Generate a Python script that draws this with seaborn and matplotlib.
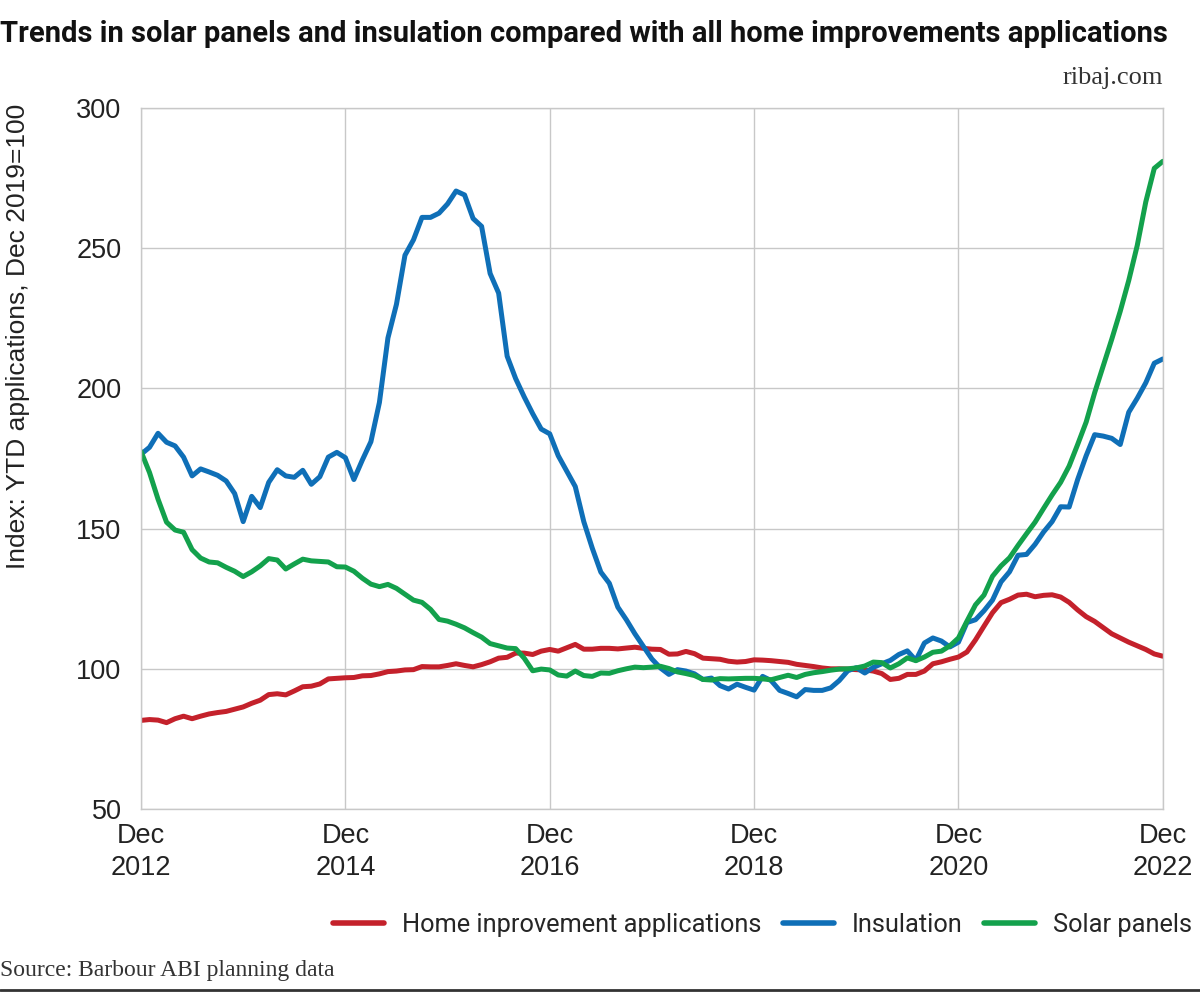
import pandas as pd
import matplotlib.pyplot as plt
import seaborn as sns

# Monthly index values, Dec 2012 .. Dec 2022 (121 months)
home_improvement = [
    81.6, 81.9, 81.7, 80.8, 82.2, 83.1, 82.2, 83.1, 83.9, 84.4,
    84.8, 85.6, 86.4, 87.7, 88.8, 90.8, 91.1, 90.7, 92.1, 93.6,
    93.8, 94.6, 96.4, 96.6, 96.8, 96.9, 97.5, 97.6, 98.2, 99.0,
    99.2, 99.6, 99.7, 100.8, 100.7, 100.7, 101.2, 101.8, 101.2, 100.7,
    101.5, 102.5, 103.8, 104.1, 105.6, 105.6, 105.1, 106.3, 106.9, 106.3,
    107.5, 108.7, 107.0, 107.0, 107.3, 107.3, 107.1, 107.4, 107.7, 107.3,
    107.0, 106.9, 105.2, 105.3, 106.2, 105.4, 103.8, 103.6, 103.4, 102.7,
    102.4, 102.6, 103.2, 103.1, 102.9, 102.6, 102.3, 101.6, 101.2, 100.8,
    100.3, 100.0, 100.0, 99.9, 99.7, 99.6, 99.2, 98.3, 96.2, 96.6,
    98.0, 98.0, 99.2, 101.8, 102.5, 103.4, 104.2, 106.0, 110.3, 115.2,
    120.0, 123.6, 124.8, 126.3, 126.6, 125.7, 126.2, 126.4, 125.6, 123.7,
    121.0, 118.6, 116.9, 114.7, 112.5, 111.0, 109.5, 108.2, 106.9, 105.3,
    104.5,
]
insulation = [
    176.5, 179.0, 184.0, 180.8, 179.5, 175.5, 168.8, 171.3, 170.2, 169.0,
    167.0, 162.5, 152.5, 161.5, 157.5, 166.5, 171.0, 168.8, 168.3, 170.8,
    165.8, 168.5, 175.5, 177.2, 175.3, 167.5, 174.5, 181.0, 195.0, 218.0,
    230.0, 247.5, 253.0, 261.0, 261.0, 262.5, 265.8, 270.4, 269.0, 260.6,
    257.8, 241.0, 234.0, 211.5, 203.5, 197.0, 191.0, 185.5, 183.8, 176.0,
    170.5, 165.0, 152.5, 143.0, 134.5, 130.5, 122.0, 117.5, 112.5, 108.0,
    103.5, 100.3, 98.0, 99.7, 99.2, 98.2, 96.2, 96.7, 94.0, 92.8,
    94.5, 93.4, 92.4, 97.3, 95.8, 92.3, 91.2, 90.0, 92.6, 92.3,
    92.3, 93.2, 95.8, 99.3, 100.4, 98.5, 100.5, 101.8, 103.0, 105.1,
    106.4, 103.0, 109.2, 111.0, 109.9, 107.8, 109.5, 116.5, 117.5, 120.7,
    124.5, 131.0, 134.6, 140.5, 140.8, 144.4, 148.8, 152.5, 157.8, 157.7,
    167.5, 176.0, 183.5, 183.0, 182.2, 180.0, 191.5, 196.5, 202.0, 209.0,
    210.5,
]
solar_panels = [
    177.5, 170.0, 160.5, 152.3, 149.5, 148.7, 142.5, 139.5, 138.1, 137.8,
    136.2, 134.8, 132.9, 134.6, 136.7, 139.3, 138.8, 135.6, 137.4, 139.1,
    138.5, 138.3, 138.1, 136.4, 136.3, 134.8, 132.3, 130.2, 129.3, 130.1,
    128.7, 126.6, 124.5, 123.7, 121.2, 117.6, 117.0, 115.9, 114.6, 112.9,
    111.3, 109.0, 108.2, 107.4, 107.2, 103.8, 99.3, 99.9, 99.6, 97.8,
    97.4, 99.2, 97.6, 97.3, 98.5, 98.4, 99.3, 100.0, 100.6, 100.4,
    100.6, 100.9, 100.1, 98.9, 98.3, 97.6, 96.2, 96.0, 96.5, 96.4,
    96.5, 96.6, 96.6, 96.4, 96.1, 96.9, 97.7, 96.9, 98.0, 98.6,
    99.0, 99.5, 99.9, 100.0, 100.3, 101.0, 102.4, 102.2, 100.3, 101.8,
    103.9, 102.9, 104.2, 105.9, 106.3, 108.2, 111.0, 117.0, 122.8, 126.3,
    133.0, 136.7, 139.6, 144.0, 148.2, 152.3, 157.2, 162.0, 166.5, 172.3,
    180.0, 188.0, 198.5, 208.0, 217.5, 227.5, 238.5, 251.0, 266.5, 278.5,
    281.0,
]

series_names = ["Home inprovement applications", "Insulation", "Solar panels"]
series_colors = ["#c4212b", "#0f6fb7", "#13a14c"]
tick_months = [0, 24, 48, 72, 96, 120]
tick_labels = ["Dec\n2012", "Dec\n2014", "Dec\n2016", "Dec\n2018", "Dec\n2020", "Dec\n2022"]
y_ticks = [50, 100, 150, 200, 250, 300]

# long-form table for seaborn
months = list(range(len(home_improvement)))
df = pd.concat([
    pd.DataFrame({"month": months, "value": vals, "series": name})
    for name, vals in zip(series_names, [home_improvement, insulation, solar_panels])
])

sns.set_style("white")
plt.rcParams["font.family"] = ["Liberation Sans", "DejaVu Sans"]
serif = ["Liberation Serif", "DejaVu Serif"]

fig = plt.figure(figsize=(12, 9.93), dpi=100)
ax = fig.add_axes([0.1175, 0.1853, 0.8515, 0.7059])

sns.lineplot(data=df, x="month", y="value", hue="series", hue_order=series_names,
             palette=series_colors, linewidth=3.6, ax=ax, legend=False)

ax.set_xlim(0, 120)
ax.set_ylim(50, 300)
ax.set_xticks(tick_months)
ax.set_xticklabels(tick_labels, linespacing=1.3)
ax.set_yticks(y_ticks)
ax.tick_params(axis="both", length=0, labelsize=19.5, colors="#222222")
ax.tick_params(axis="y", pad=14)
ax.tick_params(axis="x", pad=10)
ax.grid(True, color="#c8c8c8", linewidth=1)
for s in ax.spines.values():
    s.set_color("#c8c8c8")
    s.set_linewidth(1)
ax.set_xlabel("")
ax.set_ylabel("")

fig.text(0.005, 0.8952, "Index: YTD applications, Dec 2019=100", rotation=90,
         ha="left", va="top", fontsize=19, color="#222222")

fig.text(0.0, 0.966, "Trends in solar panels and insulation compared with all home improvements applications",
         ha="left", va="center", fontsize=21, fontweight="bold", family=["Roboto", "DejaVu Sans"],
         color="#111111")
fig.text(0.969, 0.921, "ribaj.com", ha="right", va="center", fontsize=19,
         family=serif, color="#333333")
fig.text(0.0, 0.023, "Source: Barbour ABI planning data", ha="left", va="center", fontsize=17,
         family=serif, color="#333333")

handles = [plt.Line2D([], [], color=c, linewidth=4) for c in series_colors]
fig.legend(handles, series_names, loc="center right", bbox_to_anchor=(1.012, 1 - 925 / 993),
           ncol=3, frameon=False, handlelength=2.0, handletextpad=0.7, columnspacing=0.85,
           prop={"family": ["Roboto", "DejaVu Sans"], "size": 18.3})

fig.add_artist(plt.Line2D([0, 1], [0.003, 0.003], color="#333333", linewidth=2,
                          transform=fig.transFigure))

fig.savefig("out.png", dpi=100)
